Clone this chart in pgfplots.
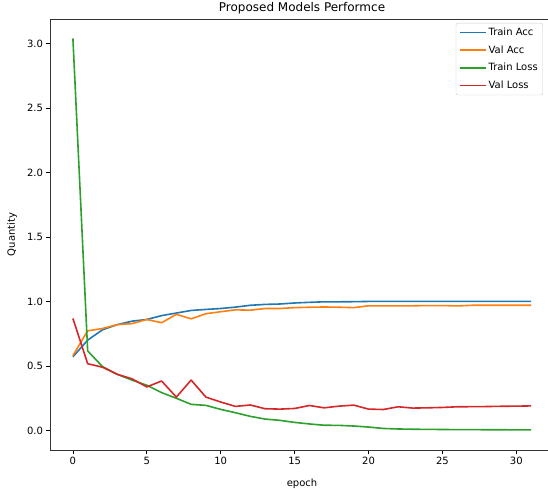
\documentclass[border=0pt]{standalone}
\usepackage{fontspec}
\setmainfont{DejaVu Sans}
\usepackage{pgfplots}
\pgfplotsset{compat=1.18}

\definecolor{mplblue}{HTML}{1F77B4}
\definecolor{mplorange}{HTML}{FF7F0E}
\definecolor{mplgreen}{HTML}{2CA02C}
\definecolor{mplred}{HTML}{D62728}

\begin{document}
\begin{tikzpicture}
\begin{axis}[
  scale only axis, width=504pt, height=431pt,
  xmin=-1.55, xmax=32.55, ymin=-0.152, ymax=3.19,
  xtick={0,5,...,30}, ytick={0,0.5,...,3.0},
  yticklabel style={/pgf/number format/.cd, fixed, fixed zerofill, precision=1},
  /pgf/number format/assume math mode=true,
  tick align=outside, major tick length=3.5pt,
  xtick pos=bottom, ytick pos=left,
  tick style={black, line width=0.8pt},
  axis line style={line width=0.8pt, black!80},
  ticklabel style={font=\fontsize{10}{12}\selectfont},
  title={Proposed Models Performce},
  every axis title shift=0pt,
  title style={font=\fontsize{12}{14}\selectfont, at={(axis description cs:0.5,1)}, anchor=center, yshift=10.5pt},
  xlabel={epoch}, ylabel={Quantity},
  xlabel style={font=\fontsize{10}{12}\selectfont, at={(axis description cs:0.5,0)}, anchor=center, yshift=-34pt},
  ylabel style={font=\fontsize{10}{12}\selectfont, at={(axis description cs:-0.0754,0.5)}, anchor=center},
  every axis plot/.append style={line width=1.6pt, line join=round},
  legend cell align=left,
  legend style={at={(0.978,0.991)}, anchor=north east, draw=black!20, rounded corners=2pt,
    fill=white, fill opacity=0.8, text opacity=1, font=\fontsize{10}{12}\selectfont,
    inner xsep=3pt, inner ysep=3pt, row sep=4.5pt},
]
\addplot[mplblue, legend image code/.code={\draw[mplblue, line width=1.6pt] (0pt,0pt) -- (26pt,0pt);}] coordinates {
(0,0.571) (1,0.70) (2,0.78) (3,0.82) (4,0.847) (5,0.86) (6,0.89) (7,0.91) (8,0.93) (9,0.938)
(10,0.945) (11,0.956) (12,0.97) (13,0.977) (14,0.98) (15,0.988) (16,0.993) (17,0.997) (18,0.997) (19,0.998)
(20,1.0) (21,1.0) (22,1.0) (23,1.0) (24,1.0) (25,1.0) (26,1.0) (27,1.0) (28,1.0) (29,1.0) (30,1.0) (31,1.0)};
\addlegendentry{Train Acc}
\addplot[mplorange, legend image code/.code={\draw[mplorange, line width=1.6pt] (0pt,0pt) -- (26pt,0pt);}] coordinates {
(0,0.58) (1,0.772) (2,0.79) (3,0.82) (4,0.828) (5,0.86) (6,0.835) (7,0.90) (8,0.865) (9,0.905)
(10,0.92) (11,0.935) (12,0.932) (13,0.945) (14,0.945) (15,0.952) (16,0.955) (17,0.957) (18,0.955) (19,0.952)
(20,0.966) (21,0.966) (22,0.966) (23,0.966) (24,0.968) (25,0.968) (26,0.965) (27,0.97) (28,0.97) (29,0.97) (30,0.97) (31,0.97)};
\addlegendentry{Val Acc}
\addplot[mplgreen, legend image code/.code={\draw[mplgreen, line width=1.6pt] (0pt,0pt) -- (26pt,0pt);}] coordinates {
(0,3.04) (1,0.616) (2,0.495) (3,0.435) (4,0.39) (5,0.35) (6,0.293) (7,0.249) (8,0.202) (9,0.194)
(10,0.163) (11,0.137) (12,0.109) (13,0.088) (14,0.078) (15,0.062) (16,0.05) (17,0.04) (18,0.039) (19,0.034)
(20,0.026) (21,0.015) (22,0.011) (23,0.009) (24,0.008) (25,0.007) (26,0.006) (27,0.006) (28,0.005) (29,0.005) (30,0.004) (31,0.004)};
\addlegendentry{Train Loss}
\addplot[mplred, legend image code/.code={\draw[mplred, line width=1.6pt] (0pt,0pt) -- (26pt,0pt);}] coordinates {
(0,0.868) (1,0.517) (2,0.49) (3,0.435) (4,0.40) (5,0.337) (6,0.383) (7,0.258) (8,0.39) (9,0.258)
(10,0.22) (11,0.186) (12,0.197) (13,0.168) (14,0.165) (15,0.17) (16,0.193) (17,0.175) (18,0.188) (19,0.196)
(20,0.165) (21,0.162) (22,0.183) (23,0.173) (24,0.175) (25,0.178) (26,0.183) (27,0.184) (28,0.185) (29,0.187) (30,0.188) (31,0.19)};
\addlegendentry{Val Loss}
\end{axis}
\pgfresetboundingbox
\path ([xshift=-50pt,yshift=-39pt]current axis.south west) rectangle ([xshift=498pt,yshift=19pt]current axis.north west);
\end{tikzpicture}
\end{document}
